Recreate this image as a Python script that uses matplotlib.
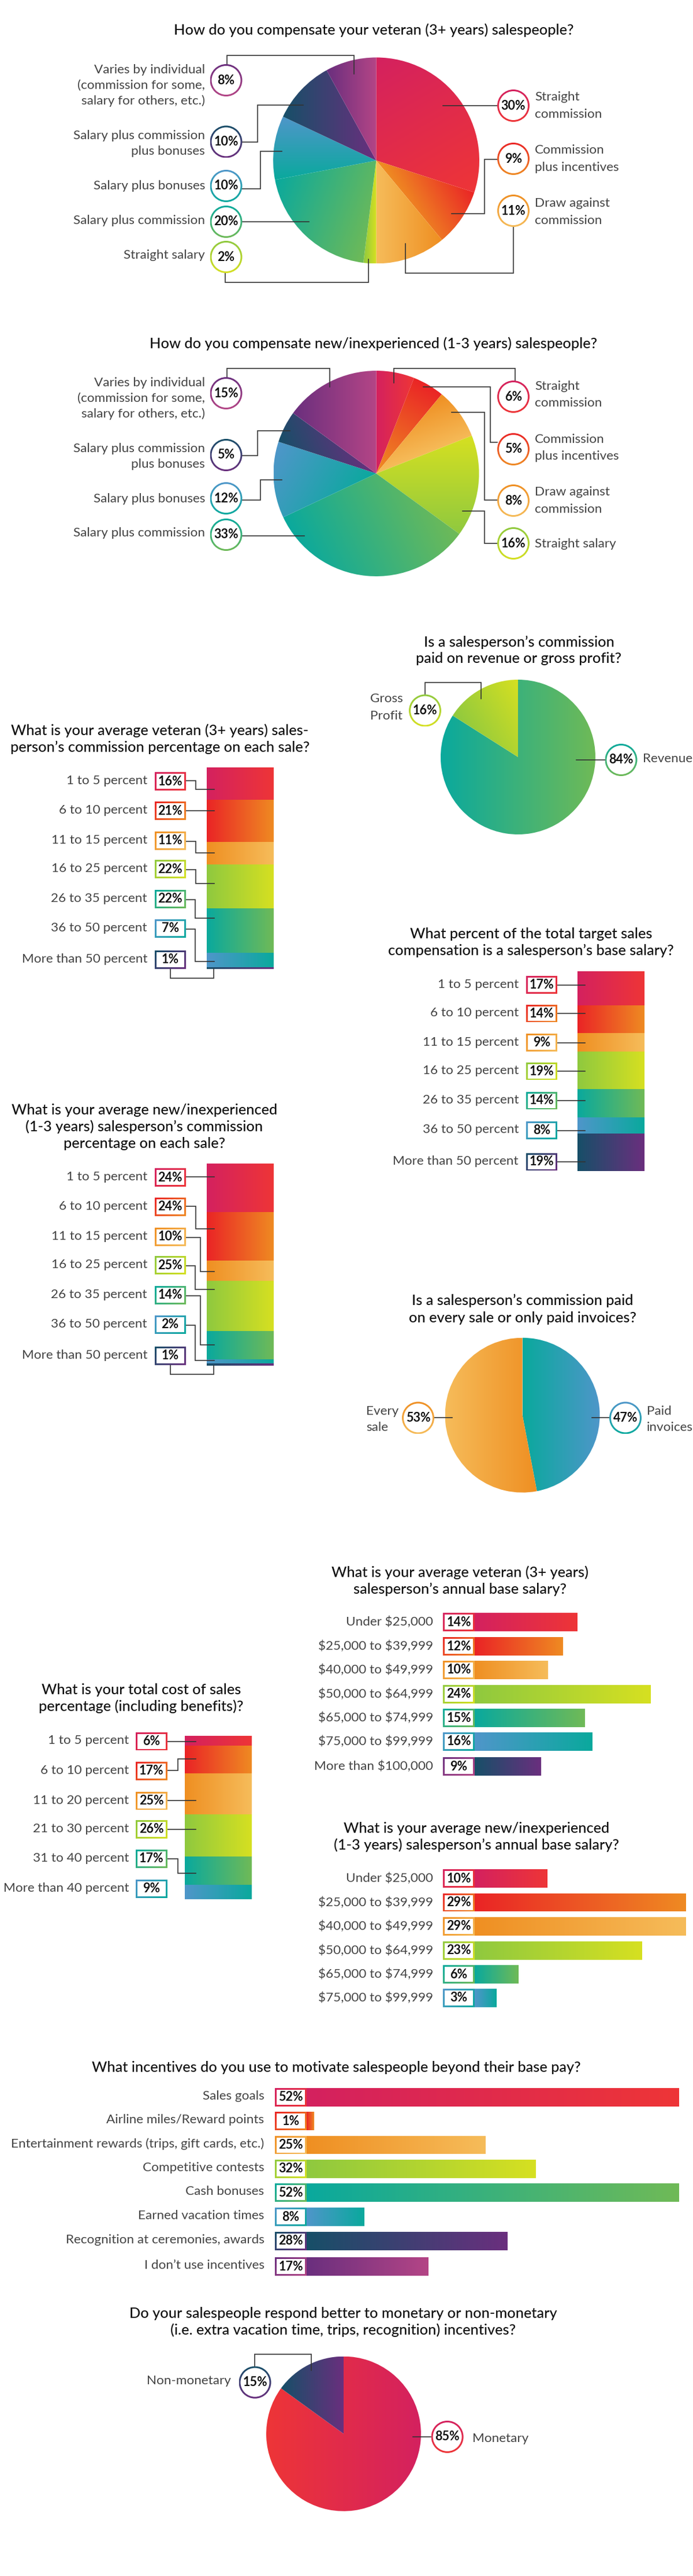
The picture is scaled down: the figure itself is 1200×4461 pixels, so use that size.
import numpy as np
import matplotlib
matplotlib.use('Agg')
import matplotlib.pyplot as plt
from matplotlib.colors import to_rgb
from matplotlib.patches import Circle, Rectangle

plt.rcParams['font.family'] = ['Lato', 'DejaVu Sans']

W, H = 1200, 4461

# Data
vet_pie_names = ['Straight\ncommission', 'Commission\nplus incentives', 'Draw against\ncommission', 'Straight salary',
                 'Salary plus commission', 'Salary plus bonuses', 'Salary plus commission\nplus bonuses',
                 'Varies by individual\n(commission for some,\nsalary for others, etc.)']
vet_pie_values = [30, 9, 11, 2, 20, 10, 10, 8]

new_pie_names = ['Straight\ncommission', 'Commission\nplus incentives', 'Draw against\ncommission', 'Straight salary',
                 'Salary plus commission', 'Salary plus bonuses', 'Salary plus commission\nplus bonuses',
                 'Varies by individual\n(commission for some,\nsalary for others, etc.)']
new_pie_values = [6, 5, 8, 16, 33, 12, 5, 15]

basis_names = ['Revenue', 'Gross\nProfit']
basis_values = [84, 16]

paid_names = ['Paid\ninvoices', 'Every\nsale']
paid_values = [47, 53]

money_names = ['Monetary', 'Non-monetary']
money_values = [85, 15]

pct_names = ['1 to 5 percent', '6 to 10 percent', '11 to 15 percent', '16 to 25 percent',
             '26 to 35 percent', '36 to 50 percent', 'More than 50 percent']
vet_pct_values = [16, 21, 11, 22, 22, 7, 1]
base_pct_values = [17, 14, 9, 19, 14, 8, 19]
new_pct_values = [24, 24, 10, 25, 14, 2, 1]

cost_names = ['1 to 5 percent', '6 to 10 percent', '11 to 20 percent', '21 to 30 percent',
              '31 to 40 percent', 'More than 40 percent']
cost_values = [6, 17, 25, 26, 17, 9]

vet_salary_names = ['Under $25,000', '$25,000 to $39,999', '$40,000 to $49,999', '$50,000 to $64,999',
                    '$65,000 to $74,999', '$75,000 to $99,999', 'More than $100,000']
vet_salary_values = [14, 12, 10, 24, 15, 16, 9]
new_salary_names = vet_salary_names[:6]
new_salary_values = [10, 29, 29, 23, 6, 3]

incentive_names = ['Sales goals', 'Airline miles/Reward points', 'Entertainment rewards (trips, gift cards, etc.)',
                   'Competitive contests', 'Cash bonuses', 'Earned vacation times',
                   'Recognition at ceremonies, awards', "I don\u2019t use incentives"]
incentive_values = [52, 1, 25, 32, 52, 8, 28, 17]

# Gradient end colours
CRIMSON = ('#d4215f', '#ee3537')
REDOR = ('#ea2426', '#ef8a22')
ORANGE = ('#ef8f22', '#f6bc5a')
LIME = ('#8fc93f', '#d6e021')
GREEN = ('#0aa99d', '#6fba57')
BLUE = ('#4f96ca', '#0aa99d')
NAVY = ('#174f68', '#6a2f7e')
PURPLE = ('#6a2f7e', '#b44586')
ROW = [CRIMSON, REDOR, ORANGE, LIME, GREEN, BLUE, NAVY, PURPLE]

LINE = '#333333'
LABEL = '#444444'
TITLE_SIZE = 18.3
LABEL_SIZE = 16.2
NUM_SIZE = 15.5

fig = plt.figure(figsize=(W / 100, H / 100), dpi=100, facecolor='white')

# Overlay in pixel coordinates for titles, labels, badges and leader lines
ov = fig.add_axes([0, 0, 1, 1], zorder=5)
ov.set_xlim(0, W)
ov.set_ylim(H, 0)
ov.axis('off')


def pixel_axes(x, y, w, h):
    ax = fig.add_axes([x / W, 1 - (y + h) / H, w / W, h / H], zorder=1)
    ax.axis('off')
    return ax


# Fill a patch with a linear two colour gradient, angle in degrees in data space
def gradient_fill(ax, patch, colors, angle=0, zorder=2):
    path = patch.get_path().transformed(patch.get_patch_transform())
    x0, y0, x1, y1 = path.get_extents().extents
    dx, dy = np.cos(np.radians(angle)), np.sin(np.radians(angle))
    gx, gy = np.meshgrid(np.linspace(x0, x1, 128), np.linspace(y0, y1, 128))
    t = gx * dx + gy * dy
    v = path.vertices[:, 0] * dx + path.vertices[:, 1] * dy
    t = np.clip((t - v.min()) / (v.max() - v.min()), 0, 1)[..., None]
    img = (1 - t) * np.array(to_rgb(colors[0])) + t * np.array(to_rgb(colors[1]))
    im = ax.imshow(img, extent=(x0, x1, y0, y1), origin='lower', aspect='auto',
                   interpolation='bilinear', zorder=zorder)
    im.set_clip_path(patch)


def title(x, y, lines, dy=29):
    for i, s in enumerate(lines):
        ov.text(x, y + i * dy, s, ha='center', va='center', fontsize=TITLE_SIZE, color='#111111',
                weight='medium', parse_math=False)


def label(x, y, s, ha='right', dy=28):
    for i, part in enumerate(s.split('\n')):
        ov.text(x, y + i * dy, part, ha=ha, va='center', fontsize=LABEL_SIZE, color=LABEL, parse_math=False)


def leader(*pts):
    xs, ys = zip(*pts)
    ov.plot(xs, ys, color=LINE, lw=1.2, solid_joinstyle='miter', zorder=3)


def circle_badge(x, y, value, colors, r=28):
    ring = Circle((x, y), r, fc='none', ec='none')
    ov.add_patch(ring)
    gradient_fill(ov, ring, colors, 90, zorder=4)
    ov.add_patch(Circle((x, y), r - 3, fc='white', ec='none', zorder=5))
    ov.text(x, y, f'{value}%', ha='center', va='center', fontsize=NUM_SIZE, weight='bold', color='#111111', zorder=6)


def rect_badge(x, y, value, colors, w=54, h=32):
    box = Rectangle((x - w / 2, y - h / 2), w, h, fc='none', ec='none')
    ov.add_patch(box)
    gradient_fill(ov, box, colors, 45, zorder=4)
    ov.add_patch(Rectangle((x - w / 2 + 3, y - h / 2 + 3), w - 6, h - 6, fc='white', ec='none', zorder=5))
    ov.text(x, y, f'{value}%', ha='center', va='center', fontsize=NUM_SIZE, weight='bold', color='#111111', zorder=6)


def gradient_pie(cx, cy, r, values, colors, angles):
    m = 1.02
    ax = pixel_axes(cx - r * m, cy - r * m, 2 * r * m, 2 * r * m)
    wedges, _ = ax.pie(values, startangle=90, counterclock=False, radius=1, frame=False)
    ax.set_xlim(-m, m)
    ax.set_ylim(-m, m)
    for wedge, c, a in zip(wedges, colors, angles):
        wedge.set_facecolor('none')
        gradient_fill(ax, wedge, c, a)


def stacked(x, y, w, h, values, colors):
    ax = pixel_axes(x, y, w, h)
    ax.set_xlim(0, 1)
    ax.set_ylim(sum(values), 0)
    bottom = 0
    for v, c in zip(values, colors):
        bar = ax.bar(0.5, v, width=1, bottom=bottom, color='none')[0]
        gradient_fill(ax, bar, c, 0)
        bottom += v


def row_bars(x, slope, rows, values, colors, h=32):
    top, bottom = min(rows) - h, max(rows) + h
    right = W - x
    ax = pixel_axes(x, top, right, bottom - top)
    ax.set_xlim(0, right / slope)
    ax.set_ylim(bottom, top)
    for y, v, c in zip(rows, values, colors):
        bar = ax.barh(y, v, height=h, color='none')[0]
        gradient_fill(ax, bar, c, 0)


# Veteran compensation pie
title(647, 52, ['How do you compensate your veteran (3+ years) salespeople?'])
gradient_pie(651.5, 278, 178.5, vet_pie_values,
             [CRIMSON, (ORANGE[0], REDOR[0]), ORANGE[::-1], LIME, GREEN, BLUE, NAVY, PURPLE],
             [-60, 30, 0, 0, -20, -90, 0, 0])
for y, n in zip([168, 260, 352], vet_pie_names[:3]):
    label(926, y, n, 'left', 30)
for y, n in zip([442, 382, 322, 235, 121], vet_pie_names[3:]):
    label(355, y, n, 'right', 27)
leader((861, 183), (767, 183))
leader((861, 276), (838.5, 276), (838.5, 370), (782, 370))
leader((889, 393), (889, 472.5), (702, 472.5), (702, 422))
leader((390, 473), (390, 489), (638, 489), (638, 449))
leader((419, 383.5), (535, 383.5))
leader((419, 327), (451, 327), (451, 262), (488, 262))
leader((419, 246), (446, 246), (446, 182), (525, 182))
leader((393, 111), (393, 95.5), (613, 95.5), (613, 127.5))
for y, v, c in zip([183, 275, 365], vet_pie_values[:3], ROW[:3]):
    circle_badge(889, y, v, c)
for y, v, c in zip([445, 384, 322, 245.5, 139], vet_pie_values[3:], ROW[3:]):
    circle_badge(391.5, y, v, c)

# New hire compensation pie
title(647, 595, ['How do you compensate new/inexperienced (1-3 years) salespeople?'])
gradient_pie(651.5, 820, 178, new_pie_values,
             [CRIMSON, (ORANGE[0], REDOR[0]), ORANGE, LIME, GREEN, BLUE, NAVY, PURPLE],
             [0, 60, -70, 90, 25, -30, 20, 0])
for y, n in zip([669, 761, 852, 942], new_pie_names[:4]):
    label(926, y, n, 'left', 29.5)
for y, n in zip([923, 864, 777, 663], new_pie_names[4:]):
    label(355, y, n, 'right', 27)
leader((892, 659), (892, 638), (681.5, 638), (681.5, 663))
leader((861, 766), (848.5, 766), (848.5, 670), (733, 670))
leader((861, 866), (838.5, 866), (838.5, 714), (782, 714))
leader((861, 941), (838.5, 941), (838.5, 885), (801, 885))
leader((419, 928), (527, 928))
leader((419, 866), (451, 866), (451, 831), (488, 831))
leader((419, 789), (446, 789), (446, 746), (501.5, 746))
leader((393, 653), (393, 638), (571, 638), (571, 670))
for y, v, c in zip([687, 778, 867, 941], new_pie_values[:4], ROW[:4]):
    circle_badge(889, y, v, c)
for y, v, c in zip([926, 863, 788, 681], new_pie_values[4:], ROW[4:]):
    circle_badge(391.5, y, v, c)

# Revenue or gross profit pie
title(898.5, 1112, ['Is a salesperson\u2019s commission', 'paid on revenue or gross profit?'])
gradient_pie(897, 1311, 134, basis_values, [GREEN, LIME], [0, 30])
leader((1048, 1315.5), (998, 1315.5))
leader((735.5, 1203), (735.5, 1181.6), (833, 1181.6), (833, 1209.5))
circle_badge(1075.5, 1316, basis_values[0], GREEN)
circle_badge(736, 1230.5, basis_values[1], LIME)
label(1113, 1314, basis_names[0], 'left')
label(641, 1210, basis_names[1], 'left', 30)

# Veteran commission percentage
title(277, 1265, ['What is your average veteran (3+ years) sales-', 'person\u2019s commission percentage on each sale?'])
stacked(357.7, 1329, 115.3, 349, vet_pct_values, ROW)
leader((322, 1352), (339, 1352), (339, 1366.5), (371, 1366.5))
leader((322, 1404.4), (371, 1404.4))
leader((322, 1457), (339, 1457), (339, 1477), (371, 1477))
leader((322, 1506), (339, 1506), (339, 1530), (371, 1530))
leader((322, 1557.5), (337.7, 1557.5), (337.7, 1590), (371, 1590))
leader((322, 1609), (337.7, 1609), (337.7, 1665), (371, 1665))
leader((295.4, 1677), (295.4, 1693.5), (370, 1693.5), (370, 1678))
for y, v, n, c in zip([1353, 1404.4, 1456, 1505, 1556.6, 1608, 1661.7], vet_pct_values, pct_names, ROW):
    rect_badge(294.6, y, v, c)
    label(255, y - 1, n)

# Base salary share
title(919.5, 1617.6, ['What percent of the total target sales', 'compensation is a salesperson\u2019s base salary?'])
stacked(1000, 1682, 115.4, 346.5, base_pct_values, ROW)
for y, v, n, c in zip([1705.7, 1755, 1805.8, 1855, 1906, 1957.5, 2012], base_pct_values, pct_names, ROW):
    leader((965, y), (1013, y))
    rect_badge(937.7, y, v, c, h=31)
    label(898, y - 1, n)

# New hire commission percentage
title(250, 1922, ['What is your average new/inexperienced', '(1-3 years) salesperson\u2019s commission', 'percentage on each sale?'])
stacked(357.7, 2014.6, 115.3, 350, new_pct_values, ROW)
leader((322, 2037.7), (371, 2037.7))
leader((322, 2089), (339, 2089), (339, 2128), (371, 2128))
leader((322, 2142.7), (347, 2142.7), (347, 2202), (371, 2202))
leader((322, 2192), (337.7, 2192), (337.7, 2233), (371, 2233))
leader((322, 2243.7), (347, 2243.7), (347, 2329), (371, 2329))
leader((322, 2295), (337.7, 2295), (337.7, 2356), (371, 2356))
leader((295.4, 2363), (295.4, 2380), (370, 2380), (370, 2365))
for y, v, n, c in zip([2039, 2090, 2141.6, 2191, 2242.6, 2294, 2347.6], new_pct_values, pct_names, ROW):
    rect_badge(294.6, y, v, c)
    label(255, y - 1, n)

# Every sale or paid invoices pie
title(905, 2252, ['Is a salesperson\u2019s commission paid', 'on every sale or only paid invoices?'], 30)
gradient_pie(904.6, 2450.7, 134, paid_values, [BLUE[::-1], ORANGE[::-1]], [0, 0])
leader((1055, 2455), (1025, 2455))
leader((751.5, 2455), (783, 2455))
circle_badge(1083, 2455.5, paid_values[0], BLUE)
circle_badge(724, 2455.5, paid_values[1], ORANGE)
label(1120, 2444, paid_names[0], 'left', 27.5)
label(634, 2444.5, paid_names[1], 'left', 27.5)

# Total cost of sales
title(244.6, 2926.7, ['What is your total cost of sales', 'percentage (including benefits)?'])
stacked(320, 3005.7, 116, 283.4, cost_values, ROW)
leader((290, 3015.5), (338.5, 3015.5))
leader((290, 3065.6), (307.7, 3065.6), (307.7, 3045.5), (338.5, 3045.5))
leader((290, 3118), (338.5, 3118))
leader((290, 3167.6), (338.5, 3167.6))
leader((290, 3219), (307.7, 3219), (307.7, 3244), (338.5, 3244))
for y, v, n, c in zip([3015.5, 3066.7, 3118.5, 3167.6, 3218.8, 3270.6], cost_values, cost_names, ROW):
    rect_badge(262, y, v, c, w=55)
    label(223, y - 1, n)

# Veteran salary bars
title(797, 2723, ['What is your average veteran (3+ years)', 'salesperson\u2019s annual base salary?'])
vet_rows = [2809, 2851, 2892, 2934, 2975, 3016, 3059]
row_bars(822, 12.7, vet_rows, vet_salary_values, ROW[:6] + [NAVY])
for y, v, n, c in zip(vet_rows, vet_salary_values, vet_salary_names, ROW[:6] + [PURPLE]):
    rect_badge(794.5, y, v, c, w=55)
    label(750, y, n)

# New hire salary bars
title(825, 3166.5, ['What is your average new/inexperienced', '(1-3 years) salesperson\u2019s annual base salary?'])
new_rows = [3253, 3294.5, 3336, 3378, 3419, 3460]
row_bars(822, 12.6, new_rows, new_salary_values, ROW[:6])
for y, v, n, c in zip(new_rows, new_salary_values, new_salary_names, ROW[:6]):
    rect_badge(794.5, y, v, c, w=55)
    label(750, y, n)

# Incentive bars
title(582.7, 3580, ['What incentives do you use to motivate salespeople beyond their base pay?'])
inc_rows = [3632, 3673, 3714.5, 3756, 3797, 3839, 3880.6, 3925]
row_bars(531, 12.4, inc_rows, incentive_values, ROW)
for y, v, n, c in zip(inc_rows, incentive_values, incentive_names, ROW):
    rect_badge(503.5, y, v, c, w=55)
    label(457.5, y - 2, n)

# Monetary or non-monetary pie
title(594, 4006, ['Do your salespeople respond better to monetary or non-monetary',
                  '(i.e. extra vacation time, trips, recognition) incentives?'])
gradient_pie(595, 4214.7, 134, money_values, [CRIMSON[::-1], NAVY], [0, 0])
leader((746, 4219.6), (715.4, 4219.6))
leader((440.8, 4098), (440.8, 4077), (539, 4077), (539, 4104.5))
circle_badge(774.6, 4220, money_values[0], CRIMSON)
circle_badge(441.5, 4125.7, money_values[1], NAVY)
label(818.5, 4222.7, money_names[0], 'left')
label(400, 4123, money_names[1], 'right')

fig.savefig('out.png', dpi=100)
